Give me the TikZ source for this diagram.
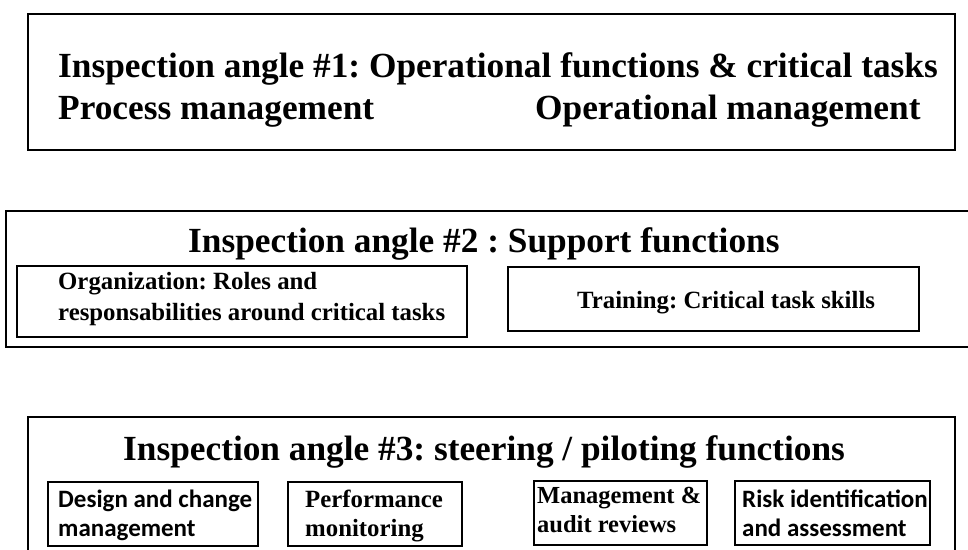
\documentclass[tikz,border=0pt]{standalone}
\usepackage{fontspec}
\setmainfont{Liberation Serif}
\newfontfamily\calib{Carlito}
\frenchspacing
\begin{document}
\begin{tikzpicture}[x=1pt,y=-1pt,
  outerbox/.style={draw=black, line width=2.6pt, rectangle, inner sep=0pt},
  innerbox/.style={draw=black, line width=2.3pt, rectangle, inner sep=0pt},
  lbl/.style={anchor=base west, inner sep=0pt, text=black},
  titlefont/.style={font=\fontsize{35.3}{40}\selectfont\bfseries\frenchspacing},
  subfont/.style={font=\fontsize{24.8}{30}\selectfont\bfseries\frenchspacing},
  mgfont/.style={font=\fontsize{24.5}{30}\selectfont\bfseries\frenchspacing},
  sansfont/.style={font=\fontsize{25}{30}\selectfont\calib\bfseries}]
\clip (0,0) rectangle (968,549);
\fill[white] (0,0) rectangle (968,549);
% boxes
\node[outerbox, minimum width=927pt, minimum height=136pt] (b1) at (491.5,82) {};
\node[outerbox, minimum width=994pt, minimum height=136pt] (b2) at (503,279) {};
\node[innerbox, minimum width=450pt, minimum height=71pt] (org) at (242,301.5) {};
\node[innerbox, minimum width=411pt, minimum height=64pt] (trn) at (713.5,299) {};
\node[outerbox, minimum width=927pt, minimum height=183pt] (b3) at (491.5,508.5) {};
\node[innerbox, minimum width=210pt, minimum height=64pt] (des) at (153,514) {};
\node[innerbox, minimum width=174pt, minimum height=64pt] (perf) at (375,514) {};
\node[innerbox, minimum width=173pt, minimum height=64pt] (mgmt) at (620.5,513) {};
\node[innerbox, minimum width=195pt, minimum height=64pt] (risk) at (832.5,513) {};
% texts
\node[lbl, titlefont] (t1) at (58,77) {Inspection angle \#1: Operational functions \& critical tasks};
\node[lbl, titlefont] (t1a) at (58,119) {Process management};
\node[lbl, titlefont] (t1b) at (535,119) {Operational management};
\node[lbl, titlefont] (t2) at (188,252) {Inspection angle \#2 : Support functions};
\node[lbl, subfont] (org1) at (58,289) {Organization: Roles and};
\node[lbl, subfont] (org2) at (58,320) {responsabilities around critical tasks};
\node[lbl, subfont] (trn1) at (577,308) {Training: Critical task skills};
\node[lbl, titlefont] (t3) at (123,460) {Inspection angle \#3: steering / piloting functions};
\node[lbl, sansfont] (des1) at (58,507) {Design and change};
\node[lbl, sansfont] (des2) at (58,536) {management};
\node[lbl, subfont] (perf1) at (305,507) {Performance};
\node[lbl, subfont] (perf2) at (305,536) {monitoring};
\node[lbl, mgfont] (mg1) at (537,503) {Management \&};
\node[lbl, mgfont] (mg2) at (537,532) {audit reviews};
\node[lbl, sansfont] (risk1) at (742,507) {Risk identification};
\node[lbl, sansfont] (risk2) at (742,536) {and assessment};
\end{tikzpicture}
\end{document}
